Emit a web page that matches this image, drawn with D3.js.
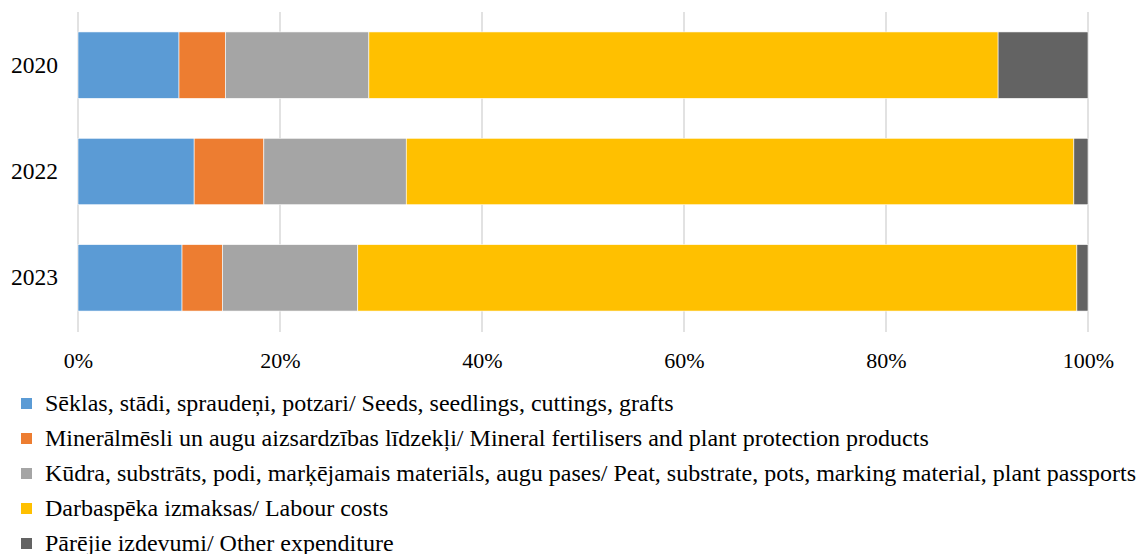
<!DOCTYPE html>
<html>
<head>
<meta charset="utf-8">
<script src="https://cdn.jsdelivr.net/npm/d3@7"></script>
<style>
  html, body { margin: 0; padding: 0; background: #fff; }
  svg { display: block; font-family: "Liberation Serif", "Times New Roman", serif; }
  svg text { font-family: "Liberation Serif", "Times New Roman", serif; }
</style>
</head>
<body>
<svg id="chart" width="1137" height="554"></svg>
<script>
const years = ["2020", "2022", "2023"];
const seriesNames = [
  "Sēklas, stādi, spraudeņi, potzari/ Seeds, seedlings, cuttings, grafts",
  "Minerālmēsli un augu aizsardzības līdzekļi/ Mineral fertilisers and plant protection products",
  "Kūdra, substrāts, podi, marķējamais materiāls, augu pases/ Peat, substrate, pots, marking material, plant passports",
  "Darbaspēka izmaksas/ Labour costs",
  "Pārējie izdevumi/ Other expenditure"
];
const seeds    = [10.0, 11.5, 10.3];
const mineral  = [4.6, 6.9, 4.0];
const peat     = [14.2, 14.1, 13.4];
const labour   = [62.3, 66.1, 71.2];
const other    = [8.9, 1.4, 1.1];
const colors = ["#5B9BD5", "#ED7D31", "#A5A5A5", "#FFC000", "#636363"];
const xTicks = [0, 20, 40, 60, 80, 100];

const seriesValues = [seeds, mineral, peat, labour, other];
const rows = years.map((y, i) => {
  const r = { year: y };
  seriesNames.forEach((n, j) => r[n] = seriesValues[j][i]);
  return r;
});
const stacked = d3.stack().keys(seriesNames).offset(d3.stackOffsetExpand)(rows);

const svg = d3.select("#chart");
const x = d3.scaleLinear().domain([0, 1]).range([78, 1088]);
const y = d3.scaleBand().domain(years).range([12, 331]).paddingInner(0.375).paddingOuter(0.1875);

// gridlines
svg.append("g").selectAll("line").data(xTicks).join("line")
  .attr("x1", d => x(d / 100)).attr("x2", d => x(d / 100))
  .attr("y1", 12).attr("y2", 332)
  .attr("stroke", "#D9D9D9").attr("stroke-width", 1.5);

// bars
svg.append("g").selectAll("g").data(stacked).join("g")
  .attr("fill", (d, i) => colors[i])
  .selectAll("rect").data(d => d).join("rect")
  .attr("x", d => x(d[0]))
  .attr("width", d => x(d[1]) - x(d[0]))
  .attr("y", d => y(d.data.year))
  .attr("height", y.bandwidth())
  .attr("stroke", "#fff").attr("stroke-width", 0.6);

// x axis labels
const xAxis = d3.axisBottom(x).tickValues(xTicks.map(d => d / 100))
  .tickFormat(d => Math.round(d * 100) + "%").tickSize(0).tickPadding(0);
svg.append("g").attr("transform", "translate(0,352)").call(xAxis)
  .attr("font-family", null)
  .call(g => g.select(".domain").remove())
  .selectAll("text").attr("font-size", 22).attr("fill", "#000")
  .attr("dy", "0.71em");

// y axis labels
const yAxis = d3.axisLeft(y).tickSize(0).tickPadding(20);
svg.append("g").attr("transform", "translate(78,0)").call(yAxis)
  .attr("font-family", null)
  .call(g => g.select(".domain").remove())
  .selectAll("text").attr("font-size", 23.5).attr("fill", "#000");

// legend
const leg = svg.append("g").selectAll("g").data(seriesNames).join("g")
  .attr("transform", (d, i) => `translate(21,${411 + i * 35})`);
leg.append("rect").attr("x", 0).attr("y", -13).attr("width", 11).attr("height", 11)
  .attr("fill", (d, i) => colors[i]);
leg.append("text").attr("x", 24).attr("y", 0).attr("font-size", 24).attr("fill", "#000")
  .text(d => d);
</script>
</body>
</html>
